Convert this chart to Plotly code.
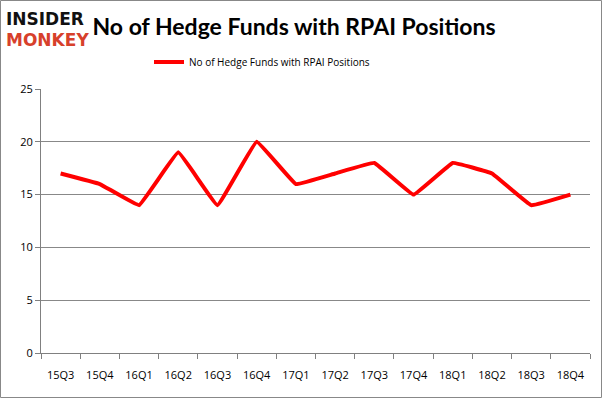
import plotly.graph_objects as go

quarters = ["15Q3", "15Q4", "16Q1", "16Q2", "16Q3", "16Q4", "17Q1",
            "17Q2", "17Q3", "17Q4", "18Q1", "18Q2", "18Q3", "18Q4"]
funds = [17, 16, 14, 19, 14, 20, 16, 17, 18, 15, 18, 17, 14, 15]
series_name = "No of Hedge Funds with RPAI Positions"

W, H = 602, 398
L, R, T, B = 41, 12, 89, 45
pw, ph = W - L - R, H - T - B

def px(x):
    return (x - L) / pw

def py(y):
    return (H - B - y) / ph

fig = go.Figure()
fig.add_trace(go.Scatter(
    x=quarters, y=funds, mode="lines", name=series_name,
    line=dict(color="#ff0000", width=4, shape="spline", smoothing=0.2),
))

fig.update_layout(
    width=W, height=H,
    margin=dict(l=L, r=R, t=T, b=B, autoexpand=False),
    paper_bgcolor="white", plot_bgcolor="white",
    font=dict(family="Open Sans", size=11, color="#000"),
    showlegend=True,
    legend=dict(orientation="h", x=px(262), xanchor="center", y=py(62), yanchor="middle",
                font=dict(size=10, family="Open Sans"), bgcolor="rgba(0,0,0,0)"),
    title=dict(text="<b>" + series_name + "</b>", xref="container", x=294 / W,
               xanchor="center", yref="container", y=1 - 27 / H, yanchor="middle",
               font=dict(family="Lato", size=23, color="#000")),
    xaxis=dict(
        type="category", tickson="boundaries", ticks="outside", ticklen=5,
        tickcolor="#808080", showline=True, linecolor="#808080", linewidth=1,
        showgrid=False, tickfont=dict(size=11), range=[-0.5, 13.5],
        ticklabelstandoff=12,
    ),
    yaxis=dict(
        range=[0, 25], dtick=5, ticks="outside", ticklen=5, tickcolor="#808080",
        showline=True, linecolor="#808080", linewidth=1,
        showgrid=True, gridcolor="#888888", gridwidth=1, zeroline=False,
        tickfont=dict(size=11),
    ),
)

fig.add_shape(type="rect", xref="paper", yref="paper",
              x0=px(0.5), x1=px(601.5), y0=py(0.5), y1=py(397.5),
              line=dict(color="#888888", width=1), layer="below")

fig.add_annotation(text="<b>INSIDER</b>", xref="paper", yref="paper",
                   x=px(4), y=py(19), xanchor="left", yanchor="middle",
                   showarrow=False, font=dict(family="DejaVu Sans", size=17, color="#111"))
fig.add_annotation(text="<b>MONKEY</b>", xref="paper", yref="paper",
                   x=px(4), y=py(40), xanchor="left", yanchor="middle",
                   showarrow=False, font=dict(family="DejaVu Sans", size=17, color="#d7402b"))

fig.write_html("out.html", config={"displayModeBar": False},
               post_script="document.body.style.margin='0';")
